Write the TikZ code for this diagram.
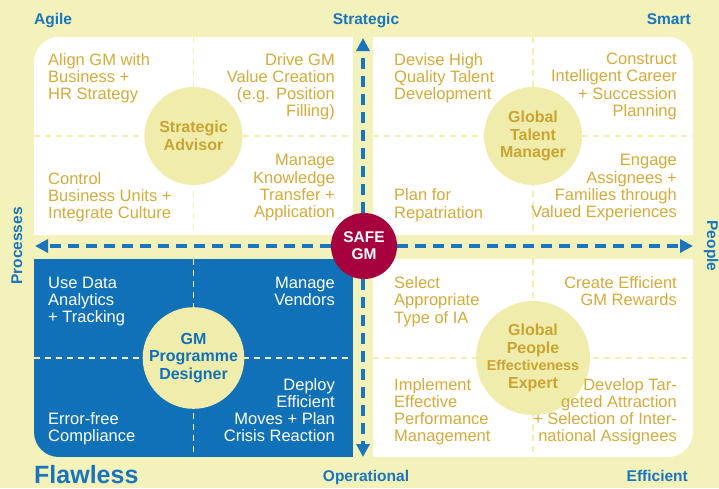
\documentclass[tikz,border=0pt]{standalone}
\usepackage{fontspec}
\setmainfont{Liberation Sans}
\usepackage{xcolor}
\usetikzlibrary{arrows.meta}

\definecolor{paleyellow}{RGB}{243,242,187}
\definecolor{circyellow}{RGB}{240,237,172}
\definecolor{dashyellow}{RGB}{241,238,178}
\definecolor{gold}{RGB}{213,172,58}
\definecolor{darkgold}{RGB}{203,163,48}
\definecolor{quadblue}{RGB}{17,113,184}
\definecolor{labelblue}{RGB}{25,117,189}
\definecolor{safered}{RGB}{166,0,62}

\begin{document}
\begin{tikzpicture}[x=1pt, y=-1pt,
	quad/.style={rectangle, minimum width=319.5pt, minimum height=198pt, inner sep=0pt},
	divider/.style={dashyellow, line width=1.6pt, dash pattern=on 6pt off 5pt},
	role/.style={circle, fill=circyellow, minimum size=98pt, inner sep=0pt, align=center, font=\fontsize{16}{17.5}\selectfont\bfseries, text=darkgold},
	task/.style={inner sep=0pt, font=\fontsize{16.5}{17.2}\selectfont, text=gold},
	taskL/.style={task, align=left, anchor=north west},
	taskR/.style={task, align=right, anchor=north east},
	axis/.style={inner sep=0pt, font=\fontsize{15.5}{18}\selectfont\bfseries, text=labelblue},
	axisarrow/.style={labelblue, line width=3.5pt, dash pattern=on 11pt off 7pt, -{Triangle[length=13pt,width=13pt]}}]
	\useasboundingbox (0,0) rectangle (719,488);
	\fill[paleyellow] (0,0) rectangle (719,488);
	
	% quadrants
	\begin{scope}
		\clip[rounded corners=25pt] (34,37) rectangle (693,457);
		\node[quad, fill=white] (qTL) at (193.5,136) {};
		\node[quad, fill=white] (qTR) at (533,136) {};
		\node[quad, fill=quadblue] (qBL) at (193.5,358) {};
		\node[quad, fill=white] (qBR) at (533,358) {};
	\end{scope}
	\foreach \q in {qTL,qTR,qBL,qBR} {
		\draw[divider] (\q.north) -- (\q.south);
		\draw[divider] (\q.west) -- (\q.east);
	}
	
	% roles
	\node[role] (advisor) at (qTL) {Strategic\\Advisor};
	\node[role] (talent) at (qTR) {Global\\Talent\\Manager};
	\node[role, text=quadblue] (designer) at (qBL) {GM\\Programme\\Designer};
	\node[role] (expert) at (qBR) {Global\\People\\{\fontsize{14.3}{17.5}\selectfont Effectiveness}\\Expert};
	
	% tasks
	\node[taskL] (alignGM) at (48,53) {Align GM with\\Business +\\HR Strategy};
	\node[taskR] (driveGM) at (335,53) {Drive GM\\Value Creation\\(e.g. Position\\Filling)};
	\node[taskL] (control) at (48,172.1) {Control\\Business Units +\\Integrate Culture};
	\node[taskR] (knowledge) at (335,154.4) {Manage\\Knowledge\\Transfer +\\Application};
	
	\node[taskL] (devise) at (394,53) {Devise High\\Quality Talent\\Development};
	\node[taskR] (career) at (677,53) {Construct\\Intelligent Career\\+ Succession\\Planning};
	\node[taskL] (repat) at (394,188.8) {Plan for\\Repatriation};
	\node[taskR] (engage) at (677,154.4) {Engage\\Assignees +\\Families through\\Valued Experiences};
	
	\node[taskL, text=white] (analytics) at (48,276.5) {Use Data\\Analytics\\+ Tracking};
	\node[taskR, text=white] (vendors) at (335,276.5) {Manage\\Vendors};
	\node[taskL, text=white] (compliance) at (48,412.3) {Error-free\\Compliance};
	\node[taskR, text=white] (deploy) at (335,377.9) {Deploy\\Efficient\\Moves + Plan\\Crisis Reaction};
	
	\node[taskL] (selectIA) at (394,276.5) {Select\\Appropriate\\Type of IA};
	\node[taskR] (rewards) at (677,276.5) {Create Efficient\\GM Rewards};
	\node[taskL] (perform) at (394,377.9) {Implement\\Effective\\Performance\\Management};
	\node[taskR] (attract) at (677,377.9) {Develop Tar-\\geted Attraction\\+ Selection of Inter-\\national Assignees};
	
	% centre and axes
	\node[circle, fill=safered, minimum size=66pt, inner sep=0pt, align=center, text=white, font=\fontsize{15.5}{16.7}\selectfont\bfseries] (safe) at (364,246) {SAFE\\GM};
	\coordinate (tipN) at (363,38);
	\coordinate (tipS) at (363,457);
	\coordinate (tipW) at (35,246);
	\coordinate (tipE) at (693,246);
	\draw[axisarrow] (tipN |- safe.north) -- (tipN);
	\draw[axisarrow] (tipS |- safe.south) -- (tipS);
	\draw[axisarrow] (safe.west |- tipW) -- (tipW);
	\draw[axisarrow] (safe.east |- tipE) -- (tipE);
	
	\node[axis, anchor=base west] (agile) at (34,24) {Agile};
	\node[axis, anchor=base] (strategic) at (366,24) {Strategic};
	\node[axis, anchor=base east] (smart) at (691,24) {Smart};
	\node[axis, anchor=base] (operational) at (366,481) {Operational};
	\node[axis, anchor=base east] (efficient) at (688,481) {Efficient};
	\node[axis, anchor=base west, font=\fontsize{25}{30}\selectfont\bfseries] (flawless) at (34,483.5) {Flawless};
	\node[axis, anchor=base, rotate=90] (processes) at (22,246) {Processes};
	\node[axis, anchor=base, rotate=-90] (people) at (707,246) {People};
\end{tikzpicture}
\end{document}
